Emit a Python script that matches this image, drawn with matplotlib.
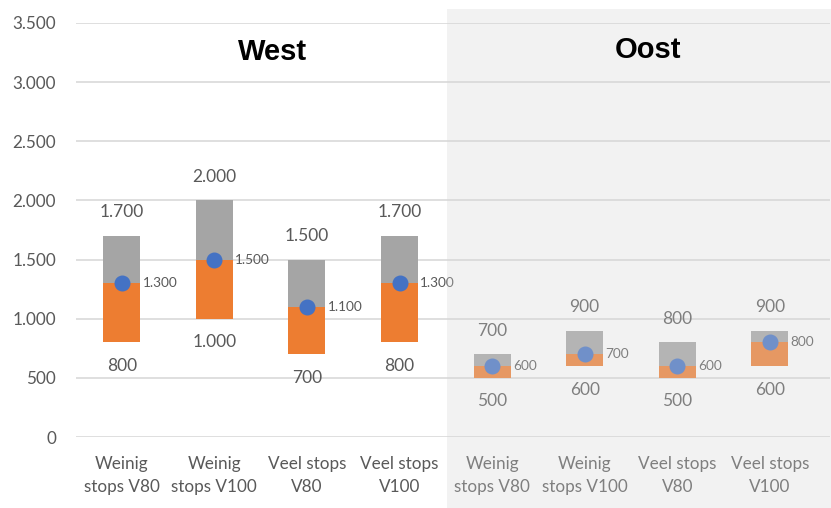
import matplotlib
matplotlib.use("Agg")
import matplotlib.pyplot as plt
from matplotlib.patches import Rectangle
from matplotlib.ticker import FuncFormatter

plt.rcParams['font.family'] = ['Lato', 'DejaVu Sans']

categories = ["Weinig\nstops V80", "Weinig\nstops V100", "Veel stops\nV80", "Veel stops\nV100",
              "Weinig\nstops V80", "Weinig\nstops V100", "Veel stops\nV80", "Veel stops\nV100"]
low_values = [800, 1000, 700, 800, 500, 600, 500, 600]
mid_values = [1300, 1500, 1100, 1300, 600, 700, 600, 800]
high_values = [1700, 2000, 1500, 1700, 700, 900, 800, 900]
region_titles = ["West", "Oost"]
y_ticks = [0, 500, 1000, 1500, 2000, 2500, 3000, 3500]


def nl_number(v, _pos=None):
    return f"{int(v):,}".replace(",", ".")


W, H = 831, 508
fig = plt.figure(figsize=(W / 100, H / 100), dpi=100)
ax = fig.add_axes([75.5 / W, (H - 437) / H, (830 - 75.5) / W, (437 - 23) / H])

x = list(range(len(categories)))
orange = "#ed7d31"
grey = "#a5a5a5"
blue = "#4472c4"
text_grey = "#595959"

lower_part = [m - l for m, l in zip(mid_values, low_values)]
upper_part = [h - m for h, m in zip(high_values, mid_values)]
ax.bar(x, lower_part, bottom=low_values, width=0.4, color=orange, zorder=2)
ax.bar(x, upper_part, bottom=mid_values, width=0.4, color=grey, zorder=2)
ax.plot(x, mid_values, linestyle="none", marker="o", markersize=10.5,
        color=blue, zorder=3)

for xi, lo, mi, hi in zip(x, low_values, mid_values, high_values):
    ax.annotate(nl_number(hi), (xi, hi), xytext=(0, 17), textcoords="offset points",
                ha="center", va="center", fontsize=12.5, color=text_grey)
    ax.annotate(nl_number(lo), (xi, lo), xytext=(0, -17), textcoords="offset points",
                ha="center", va="center", fontsize=12.5, color=text_grey)
    ax.annotate(nl_number(mi), (xi, mi), xytext=(15, 0), textcoords="offset points",
                ha="left", va="center", fontsize=9.8, color=text_grey)

ax.set_xlim(-0.5, 7.65)
ax.set_ylim(0, 3500)
ax.set_yticks(y_ticks)
ax.yaxis.set_major_formatter(FuncFormatter(nl_number))
ax.set_xticks(x)
ax.set_xticklabels(categories, fontsize=12.3, color=text_grey, linespacing=1.5)
ax.tick_params(axis="y", length=0, pad=14, labelsize=12.3, labelcolor=text_grey)
ax.tick_params(axis="x", length=0, pad=14)
ax.grid(axis="y", color="#d9d9d9", linewidth=1.2, zorder=0)
for side in ax.spines.values():
    side.set_visible(False)
ax.set_facecolor("none")

# shaded panel over the eastern half
shade = Rectangle((447 / W, 0), 1 - 447 / W, (H - 9) / H, transform=fig.transFigure,
                  facecolor="#d7d7d7", alpha=0.3, edgecolor="none", zorder=5)
fig.patches.append(shade)

fig.text(273 / W, 1 - 52 / H, region_titles[0], ha="center", va="center",
         fontsize=21, fontweight="bold", family=["Liberation Sans"], color="black", zorder=6)
fig.text(648 / W, 1 - 50 / H, region_titles[1], ha="center", va="center",
         fontsize=21, fontweight="bold", family=["Liberation Sans"], color="black", zorder=6)

fig.savefig("out.png", dpi=100)
